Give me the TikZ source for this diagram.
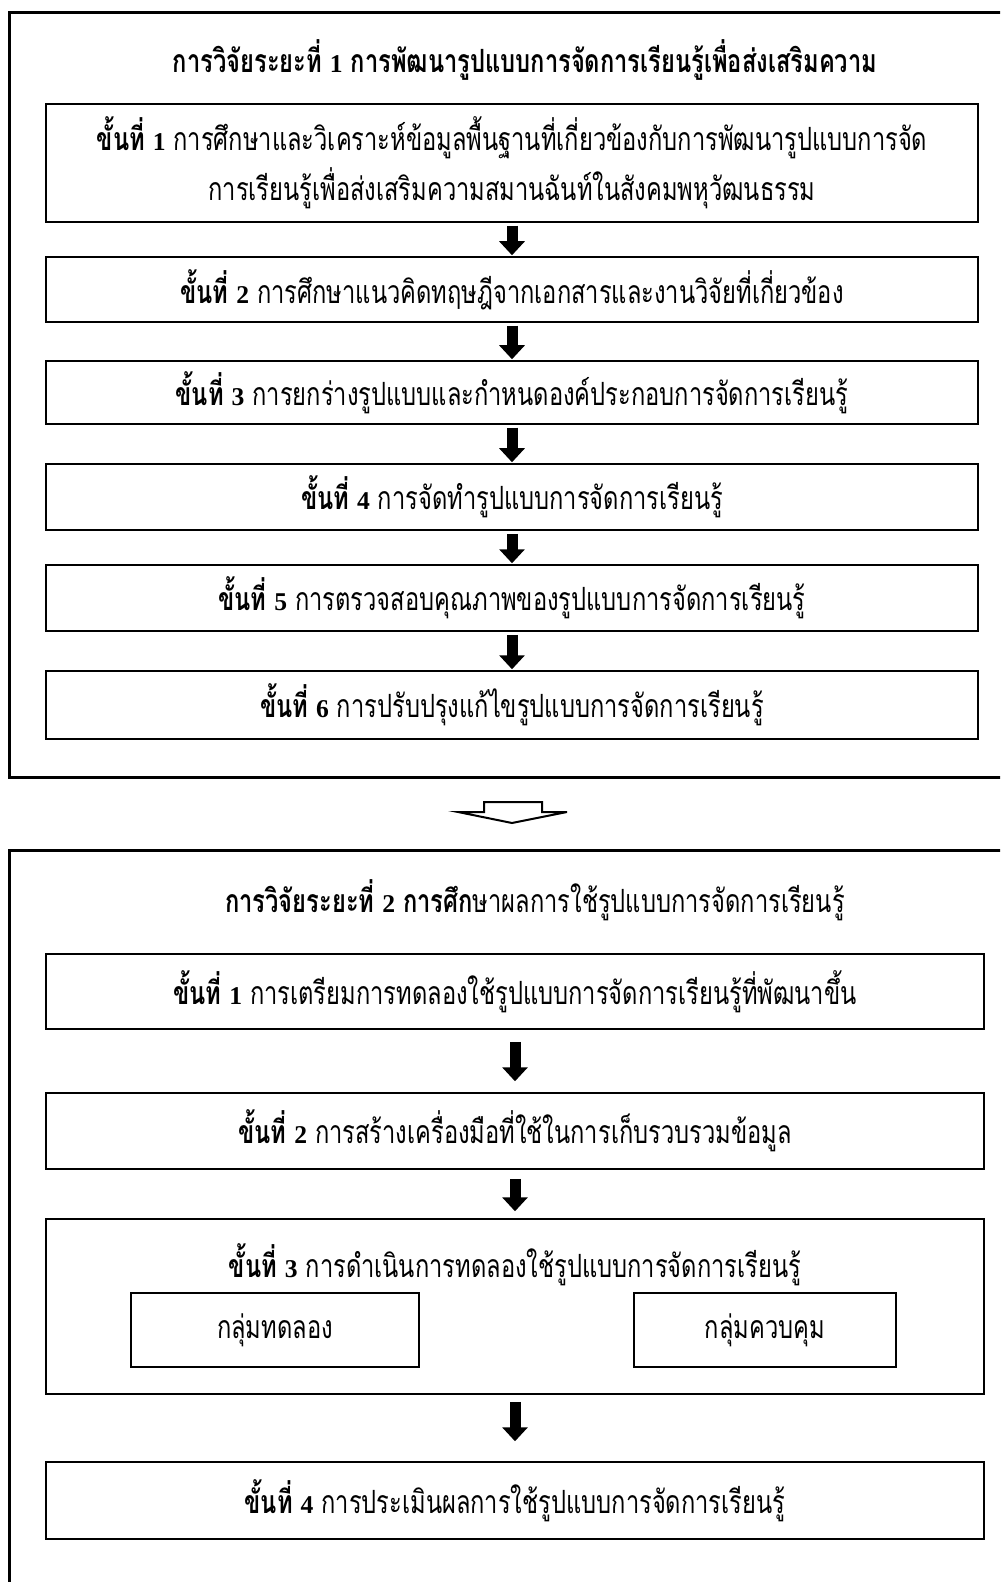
\documentclass[tikz,border=0pt]{standalone}
\usepackage{fontspec}
\setmainfont[Script=Thai, FakeStretch=0.74]{Loma}
\newfontfamily\numfont[Scale=0.8]{Liberation Serif}
\usepackage{tikz}
\usetikzlibrary{arrows.meta}
\newcommand{\khan}[1]{\textbf{ขั้นที่ {\numfont #1}}}
\tikzset{
	frame/.style={draw, line width=1.5pt},
	stepbox/.style={draw, line width=0.75pt, minimum width=466pt, align=center, inner sep=0pt},
	groupbox/.style={draw, line width=0.75pt, minimum height=37pt, inner sep=0pt},
	heading/.style={execute at begin node=\bfseries},
	flowarrow/.style={line width=5.5pt, -{Triangle[length=7pt, width=12.5pt]}}
}

\begin{document}
\begin{tikzpicture}[x=0.5pt, y=-0.5pt, every node/.style={font=\fontsize{16pt}{25pt}\selectfont}]
	\clip (0,0) rectangle (1000,1582);
	% phase 1
	\draw[frame] (9,13) rectangle (1012,777);
	\node[heading] (T1) at (525,60) {การวิจัยระยะที่ {\numfont 1} การพัฒนารูปแบบการจัดการเรียนรู้เพื่อส่งเสริมความ};
	\node[stepbox, minimum height=59pt] (A1) at (512,163) {\khan{1} การศึกษาและวิเคราะห์ข้อมูลพื้นฐานที่เกี่ยวข้องกับการพัฒนารูปแบบการจัด\\การเรียนรู้เพื่อส่งเสริมความสมานฉันท์ในสังคมพหุวัฒนธรรม};
	\node[stepbox, minimum height=32.5pt] (A2) at (512,289.5) {\khan{2} การศึกษาแนวคิดทฤษฎีจากเอกสารและงานวิจัยที่เกี่ยวข้อง};
	\node[stepbox, minimum height=31.5pt] (A3) at (512,392.5) {\khan{3} การยกร่างรูปแบบและกำหนดองค์ประกอบการจัดการเรียนรู้};
	\node[stepbox, minimum height=33pt] (A4) at (512,497) {\khan{4} การจัดทำรูปแบบการจัดการเรียนรู้};
	\node[stepbox, minimum height=33pt] (A5) at (512,598) {\khan{5} การตรวจสอบคุณภาพของรูปแบบการจัดการเรียนรู้};
	\node[stepbox, minimum height=34pt] (A6) at (512,705) {\khan{6} การปรับปรุงแก้ไขรูปแบบการจัดการเรียนรู้};
	\foreach \i/\j in {A1/A2, A2/A3, A3/A4, A4/A5, A5/A6}
		\draw[flowarrow, shorten <=1.5pt, shorten >=0.5pt] (\i) -- (\j);

	% hollow arrow between the phases
	\draw[line width=1pt, line join=miter] (484,802) -- (542,802) -- (542,812) -- (567,812) -- (512,823) -- (458,812) -- (484,812) -- cycle;

	% phase 2
	\draw[frame] (9,850) rectangle (1012,1600);
	\node (T2) at (535,900) {\textbf{การวิจัยระยะที่ {\numfont 2} การศึก}ษาผลการใช้รูปแบบการจัดการเรียนรู้};
	\node[stepbox, minimum width=469pt, minimum height=37.5pt] (B1) at (515,991.5) {\khan{1} การเตรียมการทดลองใช้รูปแบบการจัดการเรียนรู้ที่พัฒนาขึ้น};
	\node[stepbox, minimum width=469pt, minimum height=38pt] (B2) at (515,1131) {\khan{2} การสร้างเครื่องมือที่ใช้ในการเก็บรวบรวมข้อมูล};
	\node[stepbox, minimum width=469pt, minimum height=87.5pt] (B3) at (515,1306.5) {};
	\node (B3t) at (515,1265) {\khan{3} การดำเนินการทดลองใช้รูปแบบการจัดการเรียนรู้};
	\node[groupbox, minimum width=144pt] (G1) at (275,1330) {กลุ่มทดลอง};
	\node[groupbox, minimum width=131pt] (G2) at (765,1330) {กลุ่มควบคุม};
	\node[stepbox, minimum width=469pt, minimum height=38.5pt] (B4) at (515,1500.5) {\khan{4} การประเมินผลการใช้รูปแบบการจัดการเรียนรู้};
	\draw[flowarrow, shorten <=6pt, shorten >=5.5pt] (B1) -- (B2);
	\draw[flowarrow, shorten <=4.5pt, shorten >=3.5pt] (B2) -- (B3);
	\draw[flowarrow, shorten <=3.5pt, shorten >=10pt] (B3) -- (B4);
\end{tikzpicture}
\end{document}
